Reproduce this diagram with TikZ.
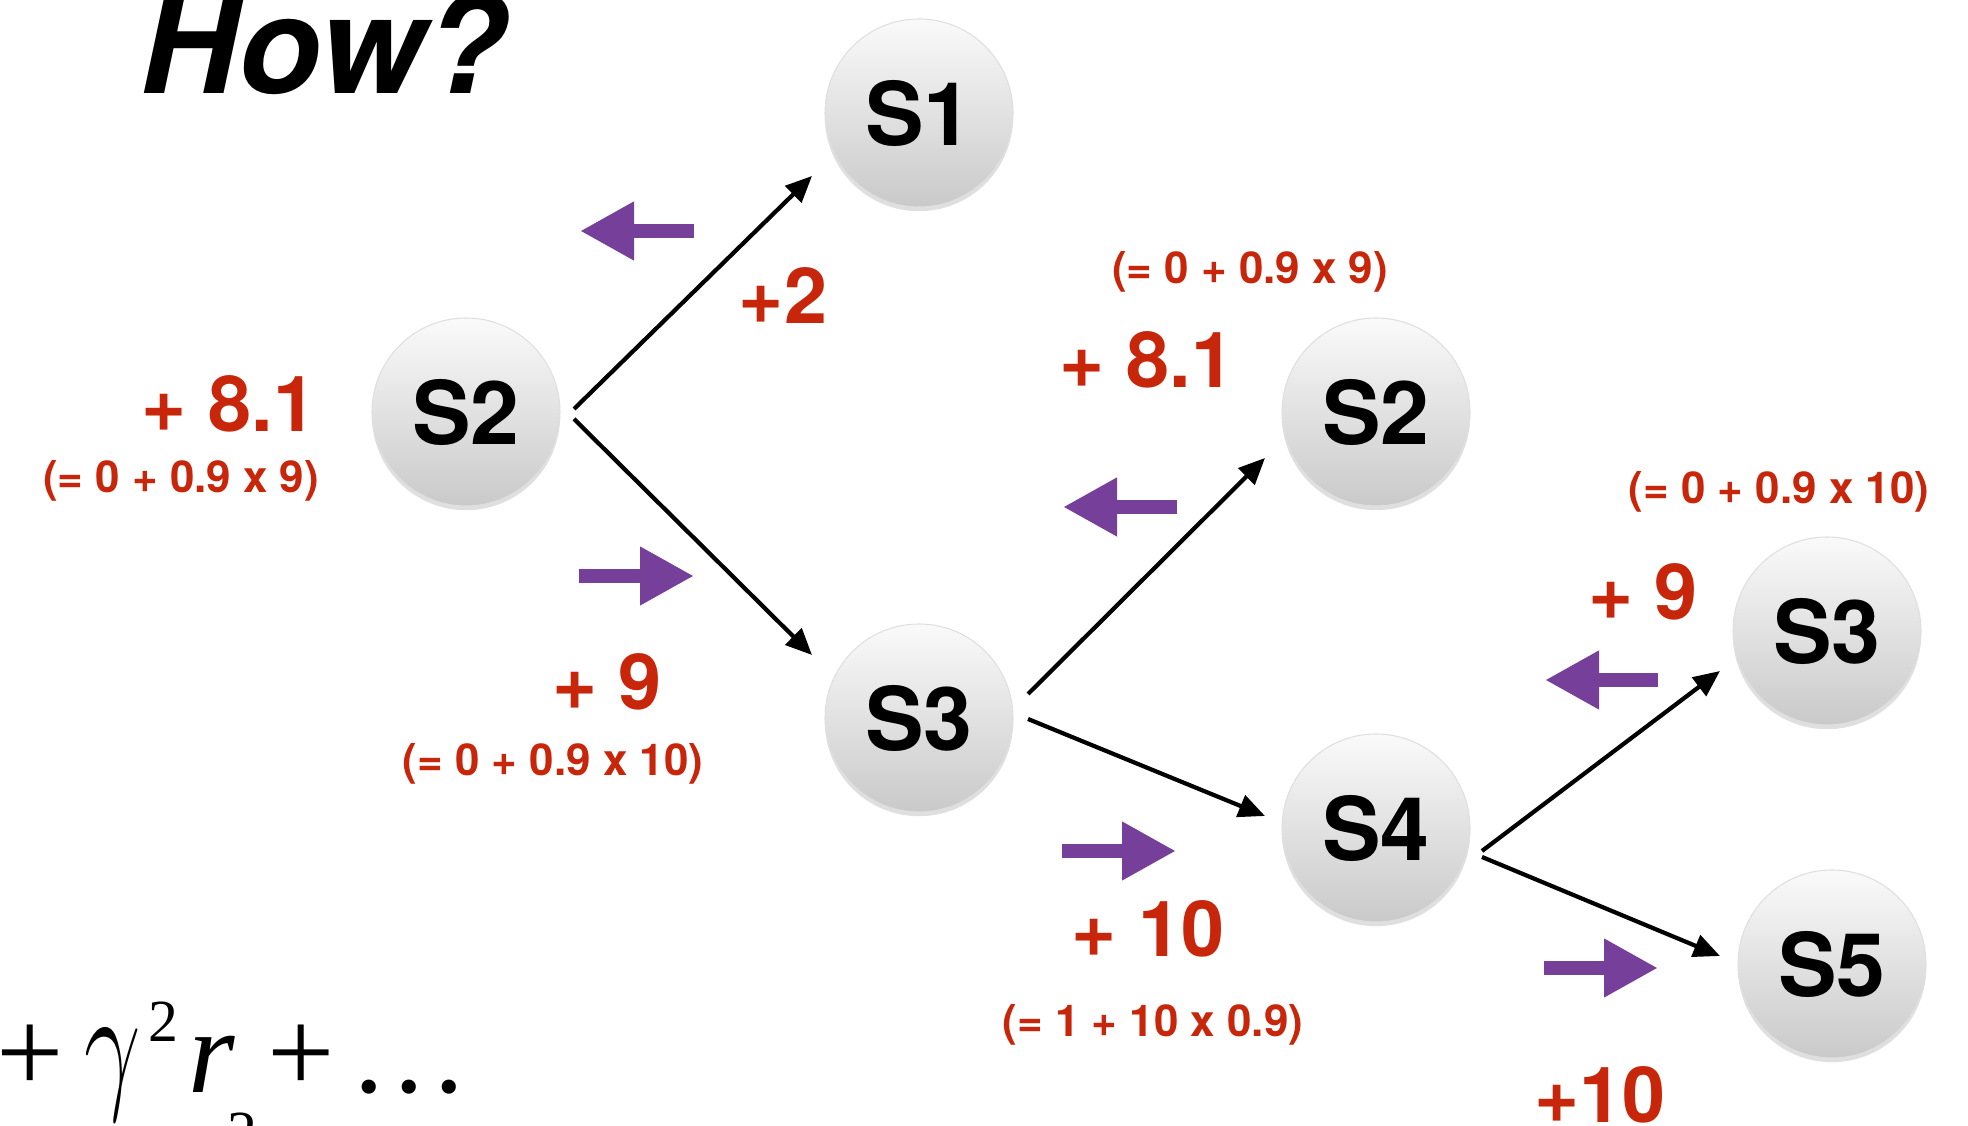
\RequirePackage{fix-cm}
\documentclass[tikz,border=0pt]{standalone}
\usepackage{graphicx}
\usepackage{fontspec}
\setmainfont{TeX Gyre Heros}
\newfontfamily\eqfont{Liberation Serif}
\usetikzlibrary{arrows.meta,calc,positioning,shadows}
\definecolor{gainred}{HTML}{C8260A}
\definecolor{backpurple}{HTML}{763F9A}

\begin{document}
\begin{tikzpicture}[>={Triangle[length=7.5pt,width=6.5pt]},
  state/.style={circle, minimum size=1.88cm, inner sep=0pt, top color=gray!4, bottom color=gray!42, draw=gray!25, line width=0.3pt, drop shadow={opacity=0.25, shadow xshift=0pt, shadow yshift=-1.2pt}, font=\fontsize{25}{30}\selectfont\bfseries},
  gain/.style={text=gainred, font=\fontsize{22}{26}\selectfont\bfseries},
  expl/.style={text=gainred, font=\fontsize{12.5}{15}\selectfont\bfseries},
  move/.style={->, line width=1.2pt},
  backarr/.style={backpurple, line width=0.14cm, -{Triangle[length=0.54cm,width=0.55cm]}}]

  \clip (0,0) rectangle (19.68,11.26);

  \node[anchor=base west, inner sep=0pt, font=\fontsize{38.5}{43}\selectfont\bfseries\itshape] (how) at (1.40,10.32) {How?};

  % states
  \node[state] (s1) at (9.19,10.13) {S1};
  \node[state] (s2a) at (4.66,7.14) {S2};
  \node[state] (s3a) at (9.19,4.08) {S3};
  \node[state] (s2b) at (13.76,7.14) {S2};
  \node[state] (s4) at (13.76,2.98) {S4};
  \node[state] (s3b) at (18.27,4.95) {S3};
  \node[state] (s5) at (18.32,1.62) {S5};

  % transitions
  \draw[move] ($(s2a)+(1.08,0.03)$) -- ($(s1)+(-1.07,-0.63)$);
  \draw[move] ($(s2a)+(1.08,-0.07)$) -- ($(s3a)+(-1.07,0.63)$);
  \draw[move] ($(s3a)+(1.09,0.24)$) -- ($(s2b)+(-1.11,-0.46)$);
  \draw[move] ($(s3a)+(1.09,-0.01)$) -- ($(s4)+(-1.11,0.12)$);
  \draw[move] ($(s4)+(1.06,-0.23)$) -- ($(s3b)+(-1.07,-0.40)$);
  \draw[move] ($(s4)+(1.06,-0.29)$) -- ($(s5)+(-1.12,0.08)$);

  % backup arrows
  \draw[backarr] (6.94,8.95) -- (5.80,8.95);
  \draw[backarr] (5.79,5.50) -- (6.94,5.50);
  \draw[backarr] (11.77,6.19) -- (10.63,6.19);
  \draw[backarr] (10.62,2.75) -- (11.76,2.75);
  \draw[backarr] (16.58,4.46) -- (15.45,4.46);
  \draw[backarr] (15.44,1.58) -- (16.58,1.58);

  % values
  \node[gain] (g2) at (7.83,8.30) {+2};
  \node[gain] (g81a) at (2.29,7.22) {+ 8.1};
  \node[expl] (e81a) at (1.81,6.45) {(= 0 + 0.9 x 9)};
  \node[gain] (g9a) at (6.07,4.44) {+ 9};
  \node[expl] (e9a) at (5.53,3.62) {(= 0 + 0.9 x 10)};
  \node[expl] (e81b) at (12.50,8.54) {(= 0 + 0.9 x 9)};
  \node[gain] (g81b) at (11.47,7.66) {+ 8.1};
  \node[gain] (g10a) at (11.48,1.97) {+ 10};
  \node[expl] (e10a) at (11.53,1.01) {(= 1 + 10 x 0.9)};
  \node[expl] (e9b) at (17.79,6.34) {(= 0 + 0.9 x 10)};
  \node[gain] (g9b) at (16.43,5.34) {+ 9};
  \node[gain, anchor=base] (g10b) at (16.00,0.03) {+10};

  \node[anchor=base west, inner sep=0pt, font=\eqfont\fontsize{34}{38}\selectfont] (ret) at (-0.04,0.33) {+\hspace{0.2cm}\scalebox{0.68}[1]{\fontsize{42}{46}\selectfont$\gamma$}\hspace{0.08cm}\raisebox{0.51cm}{\fontsize{17}{17}\selectfont 2}\hspace{0.1cm}\textit{r}\hspace{-0.08cm}\raisebox{-0.6cm}{\fontsize{17}{17}\selectfont 2}\hspace{0.1cm}+\hspace{0.15cm}…};
\end{tikzpicture}
\end{document}
